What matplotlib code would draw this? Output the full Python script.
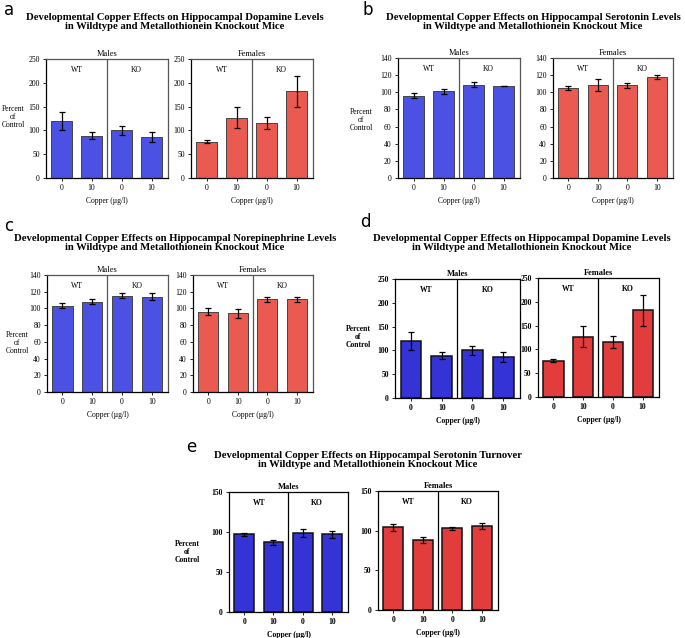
import matplotlib.pyplot as plt
import numpy as np

# Data (percent of control, mean and error)
copper_labels = ['0', '10', '0', '10']
groups = ['WT', 'KO']

da_males = [120, 89, 100, 86]
da_males_err = [19, 8, 10, 10]
da_females = [76, 127, 116, 182]
da_females_err = [3, 23, 13, 33]

ser_males = [96, 101, 109, 107]
ser_males_err = [3, 3, 3, 0]
ser_females = [105, 109, 108, 118]
ser_females_err = [2, 7, 3, 2]

ne_males = [103, 108, 115, 114]
ne_males_err = [3, 3, 3, 4]
ne_females = [96, 94, 111, 111]
ne_females_err = [4, 5, 3, 3]

turn_males = [97, 87, 99, 97]
turn_males_err = [2, 3, 5, 4]
turn_females = [104, 88, 103, 106]
turn_females_err = [5, 4, 2, 4]

W, H = 685, 638
SERIF = 'Liberation Serif'
XLIM = (-0.52, 3.55)

fig = plt.figure(figsize=(W / 100, H / 100), dpi=100)


def px_axes(x0, y0, x1, y1):
    # Create axes from pixel box (top-left origin)
    return fig.add_axes([x0 / W, 1 - y1 / H, (x1 - x0) / W, (y1 - y0) / H])


def bar_panel(box, values, errs, color, ymax, ystep, sex, bold=False):
    ax = px_axes(*box)
    x = np.arange(len(values))
    frame = 'black' if bold else '#555555'
    ax.bar(x, values, width=0.68, color=color, edgecolor='#111111' if bold else '#444444',
           linewidth=1.1 if bold else 0.7)
    ax.errorbar(x, values, yerr=errs, fmt='none', ecolor='black', elinewidth=0.9,
                capsize=2.5, capthick=0.9)
    ax.axvline(1.5, color=frame, linewidth=0.9)
    ax.set_xlim(*XLIM)
    ax.set_ylim(0, ymax)
    ax.set_yticks(np.arange(0, ymax + 1, ystep))
    ax.set_xticks(x)
    ax.set_xticklabels(copper_labels)
    weight = 'bold' if bold else 'normal'
    for lab in ax.get_xticklabels() + ax.get_yticklabels():
        lab.set_fontfamily(SERIF)
        lab.set_fontsize(5.5)
        lab.set_fontweight(weight)
    ax.tick_params(length=2.5, width=0.6, pad=2)
    for side in ['top', 'right']:
        ax.spines[side].set_color(frame)
        ax.spines[side].set_linewidth(0.9)
    for side in ['left', 'bottom']:
        ax.spines[side].set_color('black')
        ax.spines[side].set_linewidth(0.9)
    ax.text(0.5, 0.91, groups[0], transform=ax.get_xaxis_transform(), ha='center',
            va='center', fontsize=5.5, family=SERIF, fontweight=weight)
    ax.text(2.5, 0.91, groups[1], transform=ax.get_xaxis_transform(), ha='center',
            va='center', fontsize=5.5, family=SERIF, fontweight=weight)
    ax.set_title(sex, fontsize=6, family=SERIF, fontweight=weight, pad=2)
    ax.set_xlabel('Copper (\u00b5g/l)', fontsize=5.5, family=SERIF, fontweight=weight, labelpad=3.5)
    return ax


def panel(letter, letter_xy, title, title_xy, mbox, fbox, males, males_err,
          females, females_err, ymax, ystep, ylab_xy, blue, red, bold=False):
    fig.text(letter_xy[0] / W, 1 - letter_xy[1] / H, letter, fontsize=12, family='DejaVu Sans',
             ha='left', va='center')
    fig.text(title_xy[0] / W, 1 - title_xy[1] / H, title, fontsize=7.7, family=SERIF,
             fontweight='bold', ha='center', va='center', linespacing=0.95)
    fig.text(ylab_xy[0] / W, 1 - ylab_xy[1] / H, 'Percent\nof\nControl', fontsize=5.5,
             family=SERIF, fontweight='bold' if bold else 'normal', ha='center', va='center',
             linespacing=1.0)
    bar_panel(mbox, males, males_err, blue, ymax, ystep, 'Males', bold)
    bar_panel(fbox, females, females_err, red, ymax, ystep, 'Females', bold)


blue1 = '#4b52e3'
red1 = '#ea5a50'
blue2 = '#3434d6'
red2 = '#e23c3c'

line2 = '\nin Wildtype and Metallothionein Knockout Mice'

panel('a', (4, 10), 'Developmental Copper Effects on Hippocampal Dopamine Levels' + line2,
      (175, 22), (46, 59, 168, 178), (191, 59, 313, 178),
      da_males, da_males_err, da_females, da_females_err, 250, 50, (13, 117), blue1, red1)

panel('b', (362, 10), 'Developmental Copper Effects on Hippocampal Serotonin Levels' + line2,
      (533, 22), (398, 58, 520, 178), (553, 58, 673, 178),
      ser_males, ser_males_err, ser_females, ser_females_err, 140, 20, (361, 120), blue1, red1)

panel('c', (4, 226), 'Developmental Copper Effects on Hippocampal Norepinephrine Levels' + line2,
      (175, 243), (47, 275, 168, 392), (193, 275, 313, 392),
      ne_males, ne_males_err, ne_females, ne_females_err, 140, 20, (17, 343), blue1, red1)

panel('d', (360, 222), 'Developmental Copper Effects on Hippocampal Dopamine Levels' + line2,
      (522, 243), (395, 279, 520, 398), (538, 278, 659, 397),
      da_males, da_males_err, da_females, da_females_err, 250, 50, (358, 337), blue2, red2,
      bold=True)

panel('e', (186, 447), 'Developmental Copper Effects on Hippocampal Serotonin Turnover' + line2,
      (368, 460), (229, 492, 348, 612), (378, 491, 498, 610),
      turn_males, turn_males_err, turn_females, turn_females_err, 150, 50, (187, 552), blue2, red2,
      bold=True)

fig.savefig('out.png', dpi=100)
